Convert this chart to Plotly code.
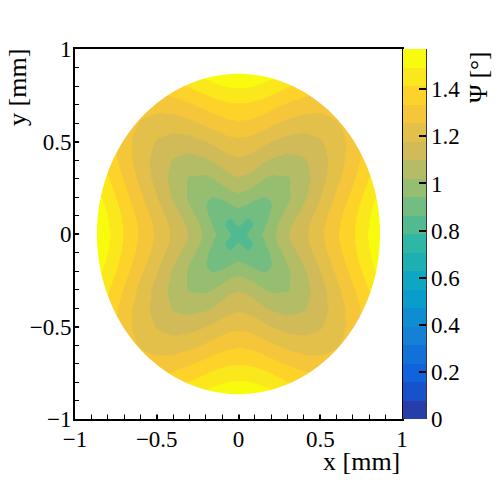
import numpy as np
import plotly.graph_objects as go

# ---- data: Psi [rad] read on a quadrant grid (x >= 0, y >= 0); field is mirror-symmetric
grid_pos = [0.0, 0.05, 0.1, 0.15, 0.2, 0.3, 0.4, 0.5, 0.6, 0.7, 0.8, 0.9]
psi_quadrant = [
    [0.780, 0.872, 0.910, 0.950, 0.998, 1.093, 1.164, 1.239, 1.323, 1.407, 1.501, 1.584],
    [0.872, 0.830, 0.879, 0.930, 0.983, 1.083, 1.156, 1.234, 1.319, 1.404, 1.497, 1.581],
    [0.910, 0.879, 0.874, 0.907, 0.955, 1.055, 1.136, 1.219, 1.307, 1.394, 1.489, 1.573],
    [0.950, 0.930, 0.907, 0.911, 0.940, 1.025, 1.110, 1.198, 1.290, 1.381, 1.475, 1.562],
    [0.998, 0.983, 0.955, 0.940, 0.948, 1.006, 1.088, 1.178, 1.270, 1.363, 1.458, 1.546],
    [1.093, 1.083, 1.055, 1.025, 1.006, 1.014, 1.070, 1.147, 1.235, 1.326, 1.418, 1.508],
    [1.164, 1.156, 1.136, 1.110, 1.088, 1.070, 1.092, 1.144, 1.215, 1.298, 1.384, 1.471],
    [1.239, 1.234, 1.219, 1.198, 1.178, 1.147, 1.144, 1.171, 1.220, 1.286, 1.361, 1.443],
    [1.323, 1.319, 1.307, 1.290, 1.270, 1.235, 1.215, 1.220, 1.249, 1.296, 1.358, 1.428],
    [1.407, 1.404, 1.394, 1.381, 1.363, 1.326, 1.298, 1.286, 1.296, 1.326, 1.372, 1.431],
    [1.501, 1.497, 1.489, 1.475, 1.458, 1.418, 1.384, 1.361, 1.358, 1.372, 1.404, 1.449],
    [1.584, 1.581, 1.573, 1.562, 1.546, 1.508, 1.471, 1.443, 1.428, 1.431, 1.449, 1.482],
]
aperture_radius = 0.866          # mm, edge of the illuminated disc
z_min, z_max = 0.0, np.pi / 2
n_levels = 20
axis_ticks = [-1, -0.5, 0, 0.5, 1]
cbar_ticks = [0, 0.2, 0.4, 0.6, 0.8, 1.0, 1.2, 1.4]

# ---- mirror quadrant into full plane
g = np.array(grid_pos)
coords = np.concatenate([-g[:0:-1], g])
Q = np.array(psi_quadrant)
Qy = np.vstack([Q[:0:-1], Q])
Z = np.hstack([Qy[:, :0:-1], Qy])

# ---- ROOT kBird palette, 20 discrete levels
stops = [0.0, 0.125, 0.25, 0.375, 0.5, 0.625, 0.75, 0.875, 1.0]
red = [0.2082, 0.0592, 0.0780, 0.0232, 0.1802, 0.5301, 0.8186, 0.9956, 0.9764]
green = [0.1664, 0.3599, 0.5041, 0.6419, 0.7178, 0.7492, 0.7328, 0.7862, 0.9832]
blue = [0.5293, 0.8684, 0.8385, 0.7914, 0.6425, 0.4662, 0.3499, 0.1968, 0.0539]


def bird(f):
    r = np.interp(f, stops, red)
    gg = np.interp(f, stops, green)
    b = np.interp(f, stops, blue)
    return "rgb(%d,%d,%d)" % (round(r * 255), round(gg * 255), round(b * 255))


colorscale = []
for i in range(n_levels):
    k = int((i + 0.99) * 255 / n_levels)
    c = bird(min(k, 254) / 254)
    colorscale.append([i / n_levels, c])
    colorscale.append([(i + 1) / n_levels, c])

font = "Liberation Serif"

fig = go.Figure()
fig.add_trace(go.Heatmap(
    x=coords, y=coords, z=Z,
    zmin=z_min, zmax=z_max, zsmooth="best",
    colorscale=colorscale,
    colorbar=dict(
        x=1.003, xanchor="left", xpad=0, ypad=0,
        y=0.5, yanchor="middle", len=1.0, lenmode="fraction",
        thickness=23, thicknessmode="pixels",
        outlinewidth=0,
        tickvals=cbar_ticks, ticks="inside", ticklen=7, tickwidth=1.5,
        tickcolor="black",
        tickfont=dict(family=font, size=23, color="black"),
    ),
    hoverinfo="skip",
))

# white mask outside the disc
th = np.linspace(0, 2 * np.pi, 241)
cx = aperture_radius * np.cos(th)
cy = aperture_radius * np.sin(th)
L = 0.975
path = "M %f,%f L %f,%f L %f,%f L %f,%f Z " % (-L, -L, L, -L, L, L, -L, L)
path += "M " + " L ".join("%f,%f" % (a, b) for a, b in zip(cx, cy)) + " Z"
fig.add_shape(type="path", path=path, xref="x", yref="y",
              fillcolor="white", line=dict(width=0), layer="above",
              fillrule="evenodd")

# colorbar right axis line
fig.add_shape(type="line", xref="paper", yref="paper",
              x0=1.0735, x1=1.0735, y0=0, y1=1,
              line=dict(color="black", width=1.5))

axis_common = dict(
    range=[-1, 1], tickvals=axis_ticks, ticks="inside", ticklen=10,
    tickwidth=1.5, tickcolor="black",
    minor=dict(dtick=0.1, tick0=0, ticks="inside", ticklen=5, tickwidth=1.2,
               tickcolor="black"),
    showline=True, linecolor="black", linewidth=2, mirror=True,
    showgrid=False, zeroline=False,
    tickfont=dict(family=font, size=23, color="black"),
)
fig.update_xaxes(ticklabelstandoff=-2, **axis_common)
fig.update_yaxes(ticklabelstandoff=-3, **axis_common)

fig.add_annotation(text="x [mm]", xref="paper", yref="paper",
                   x=1.0, y=-0.115, xanchor="right", yanchor="middle",
                   showarrow=False, font=dict(family=font, size=26, color="black"))
fig.add_annotation(text="y [mm]", xref="paper", yref="paper",
                   x=-0.174, y=0.895, xanchor="center", yanchor="middle",
                   textangle=-90, showarrow=False,
                   font=dict(family=font, size=26, color="black"))
fig.add_annotation(text="Ψ [°]", xref="paper", yref="paper",
                   x=1.232, y=0.924, xanchor="center", yanchor="middle",
                   textangle=-90, showarrow=False,
                   font=dict(family=font, size=25, color="black"))

fig.update_layout(
    width=503, height=494,
    margin=dict(l=75, r=101, t=49, b=75),
    paper_bgcolor="white", plot_bgcolor="white",
    showlegend=False,
)

fig.write_html("out.html")
